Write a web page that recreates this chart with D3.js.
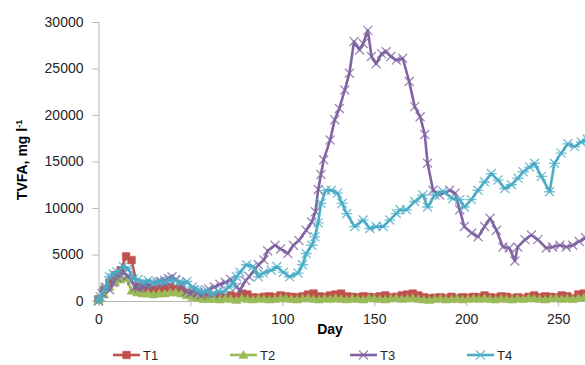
<!DOCTYPE html>
<html>
<head>
<meta charset="utf-8">
<script src="https://cdn.jsdelivr.net/npm/d3@7"></script>
<style>
body { margin: 0; background: #fff; }
svg { display: block; font-family: "Liberation Sans", Arial, sans-serif; }
</style>
</head>
<body>
<div id="chart"></div>
<script>
// T1 / T2 sampled every 3 days
var dayT12 = [0,3,6,9,12,15,18,21,24,27,30,33,36,39,42,45,48,51,54,57,60,63,66,69,72,75,78,81,84,87,90,93,96,99,102,105,108,111,114,117,120,123,126,129,132,135,138,141,144,147,150,153,156,159,162,165,168,171,174,177,180,183,186,189,192,195,198,201,204,207,210,213,216,219,222,225,228,231,234,237,240,243,246,249,252,255,258,261,264];
var valT1 = [200,1200,2000,2800,3300,4800,4400,1500,1400,1300,1200,1300,1400,1500,1300,1200,900,800,600,500,400,
	400,500,350,600,450,800,700,400,350,450,
	500,400,600,500,450,400,500,700,800,500,
	450,600,700,800,500,450,400,500,450,400,
	500,600,400,450,600,700,800,600,400,300,
	350,400,300,450,300,400,350,450,400,600,
	400,350,500,450,300,400,300,450,600,400,
	500,450,400,600,500,300,700,800];
var valT2 = [100,700,1500,2000,2300,2500,1100,900,800,800,700,800,800,900,900,800,600,400,300,200,200,
	200,150,250,200,100,300,200,150,250,200,
	150,200,300,250,200,150,250,300,200,150,
	250,200,300,200,150,250,200,150,300,250,
	200,150,250,300,200,250,300,200,150,100,
	200,250,150,200,250,150,200,250,200,300,
	200,150,250,200,150,250,200,300,250,200,
	150,250,300,200,250,200,300,350];

var dayT3 = [0,2,4,6,8,10,12,14,16,18,20,22,24,26,28,30,32,34,36,38,40,42,44,46,48,50,52,54,56,58,60,63,66,69,72,75,77,80,82,85,87,90,92,96,99,103,106,109,113,116,118,119.5,121,122.5,126,128.5,131,134,136.5,139,142,144,146.5,148.5,151,154,156.5,159,162,165.5,169,172,175,177.5,179,182,185.5,191,194,196.5,199,203,206.5,210,213,216.5,220,223.5,226.5,228,232,235.5,239,243.5,247,251,254.5,258,261.5,265];
var valT3 = [0,800,1500,1200,2000,2500,2800,3000,2700,2200,1500,1400,1600,1800,1700,1900,2000,2100,2200,2400,2600,2300,2000,1500,1000,800,1200,900,600,900,1300,1500,1800,2000,2300,1500,1200,2200,2600,3400,3900,4400,5400,6000,5600,5100,6000,6500,7600,8500,9600,12000,13600,15200,17300,19500,20700,22700,24500,27900,27000,27700,29100,26300,25500,26600,26800,26300,25900,26100,23600,20900,19800,17900,14800,11900,11400,11900,11600,9800,8000,7300,6900,8000,8900,7600,5800,5700,4300,5800,6600,7100,6600,5700,5800,6000,5800,6000,6400,6800];

var dayT4 = [0,1,3.5,6,8,10,13.5,16,19,21.5,24,27,30,33,36,39,42,45,48,51,54,56,59,62,65,68,71,73,75,77,80.5,84,87,89.6,94,97,100.5,104,108.5,111,113,116,117.7,119.5,121,123.6,126.7,130,132.5,135,139.4,144,147.6,151,154.8,158.4,162,164,167.5,172,176.5,179,183,187.4,192.8,196.5,199,202.8,206.4,210,213.7,217.3,221,224.6,228.2,231,234.5,237.2,240.9,245.4,248,251.7,255.3,259,262.6,266];
var valT4 = [0,460,1400,2600,2900,3150,3700,3500,2400,2300,2000,2200,1900,2100,2000,2300,2200,1900,2100,1500,1200,900,1100,700,1000,1000,1500,1900,2600,3100,3900,3700,2600,3000,3300,3700,3100,2600,3000,3900,5100,6000,6900,8400,10500,11900,11900,11600,10500,9400,8000,8700,7800,8000,8000,8700,9400,9800,9800,10700,11400,10100,11400,11800,11000,10900,10100,10900,11900,12800,13700,13000,12100,12500,13200,13900,14400,14800,13400,11750,14800,15900,16900,16600,17100,17400];

var seriesNames = ["T1", "T2", "T3", "T4"];
var seriesColors = ["#C0504D", "#9BBB59", "#8064A2", "#4BACC6"];
var xTicks = [0, 50, 100, 150, 200, 250];
var yTicks = [0, 5000, 10000, 15000, 20000, 25000, 30000];

var W = 585, H = 365;
var svg = d3.select("#chart").append("svg")
	.attr("width", W)
	.attr("height", H);

var x = d3.scaleLinear().domain([0, 300]).range([98.5, 650]);
var y = d3.scaleLinear().domain([0, 30000]).range([301, 22]);

// axes
var yAxis = svg.append("g")
	.attr("transform", "translate(" + x(0) + ",0)")
	.call(d3.axisLeft(y).tickValues(yTicks).tickSize(6).tickPadding(9).tickFormat(d3.format("d")));
var xAxis = svg.append("g")
	.attr("transform", "translate(0," + y(0) + ")")
	.call(d3.axisBottom(x).tickValues(xTicks).tickSize(5).tickPadding(8));
[yAxis, xAxis].forEach(function (g) {
	g.select(".domain").attr("stroke", "#b7b7b7").attr("stroke-width", 1);
	g.selectAll(".tick line").attr("stroke", "#b7b7b7");
	g.selectAll("text").attr("font-size", 14).attr("fill", "#262626").attr("font-family", "Liberation Sans, Arial, sans-serif");
});

// titles
svg.append("text")
	.attr("x", 330)
	.attr("y", 334)
	.attr("text-anchor", "middle")
	.attr("font-size", 14)
	.attr("font-weight", "bold")
	.text("Day");

var yTitle = svg.append("text")
	.attr("transform", "translate(27,160) rotate(-90)")
	.attr("text-anchor", "middle")
	.attr("font-size", 14)
	.attr("font-weight", "bold");
yTitle.append("tspan").text("TVFA, mg l");
yTitle.append("tspan").attr("dy", -5).attr("font-size", 9).text("-1");

// markers
var markerPath = [
	"M-3.8,-3.8h7.6v7.6h-7.6Z",
	"M0,-4.6L4.6,3.4L-4.6,3.4Z",
	"M-4.5,-4.5L4.5,4.5M4.5,-4.5L-4.5,4.5",
	"M-4.5,-4.5L4.5,4.5M4.5,-4.5L-4.5,4.5M-5.5,0L5.5,0"
];
var markerFill = [true, true, false, false];

var seriesDays = [dayT12, dayT12, dayT3, dayT4];
var seriesVals = [valT1, valT2, valT3, valT4];

var line = d3.line()
	.x(function (d) { return x(d[0]); })
	.y(function (d) { return y(d[1]); });

var plot = svg.append("g");

seriesNames.forEach(function (name, k) {
	var pts = seriesDays[k].map(function (d, i) { return [d, seriesVals[k][i]]; });
	var g = plot.append("g").attr("class", "series-" + name);
	g.append("path")
		.datum(pts)
		.attr("fill", "none")
		.attr("stroke", seriesColors[k])
		.attr("stroke-width", 2.6)
		.attr("stroke-linejoin", "round")
		.attr("d", line);
	g.selectAll(".mk")
		.data(pts)
		.enter()
		.append("path")
		.attr("class", "mk")
		.attr("transform", function (d) { return "translate(" + x(d[0]) + "," + y(d[1]) + ")"; })
		.attr("d", markerPath[k])
		.attr("fill", markerFill[k] ? seriesColors[k] : "none")
		.attr("stroke", seriesColors[k])
		.attr("stroke-width", markerFill[k] ? 0.5 : 1.4)
		.attr("opacity", markerFill[k] ? 1 : 0.75);
});

// legend
var legendX = [113, 230, 350, 467];
var legendY = 355;
var legend = svg.selectAll(".legend")
	.data(seriesNames)
	.enter()
	.append("g")
	.attr("class", "legend")
	.attr("transform", function (d, i) { return "translate(" + legendX[i] + "," + legendY + ")"; });
legend.append("line")
	.attr("x1", 0)
	.attr("x2", 27)
	.attr("stroke", function (d, i) { return seriesColors[i]; })
	.attr("stroke-width", 2.6);
legend.append("path")
	.attr("transform", "translate(13.5,0)")
	.attr("d", function (d, i) { return markerPath[i]; })
	.attr("fill", function (d, i) { return markerFill[i] ? seriesColors[i] : "none"; })
	.attr("stroke", function (d, i) { return seriesColors[i]; })
	.attr("stroke-width", function (d, i) { return markerFill[i] ? 0.5 : 1.4; })
	.attr("opacity", function (d, i) { return markerFill[i] ? 1 : 0.75; });
legend.append("text")
	.attr("x", 30)
	.attr("dy", "0.35em")
	.attr("font-size", 13)
	.attr("fill", "#262626")
	.text(function (d) { return d; });
</script>
</body>
</html>
